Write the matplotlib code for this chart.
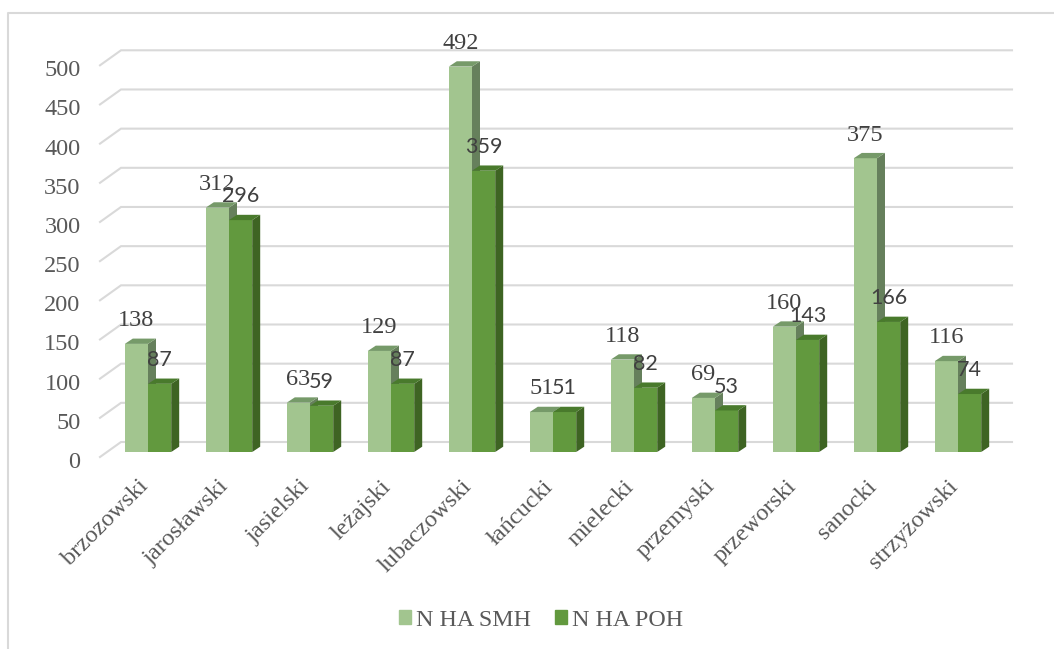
import matplotlib
matplotlib.use('Agg')
import matplotlib.pyplot as plt
from matplotlib.lines import Line2D
from matplotlib.patches import Polygon
from matplotlib.transforms import ScaledTranslation

# Data
districts = ['brzozowski', 'jarosławski', 'jasielski', 'leżajski', 'lubaczowski', 'łańcucki',
             'mielecki', 'przemyski', 'przeworski', 'sanocki', 'strzyżowski']
n_ha_smh = [138, 312, 63, 129, 492, 51, 118, 69, 160, 375, 116]
n_ha_poh = [87, 296, 59, 87, 359, 51, 82, 53, 143, 166, 74]
y_ticks = [0, 50, 100, 150, 200, 250, 300, 350, 400, 450, 500]

W, H = 1054, 649
SERIF = 'Liberation Serif'
SANS = 'Lato'

# pixel layout of the fake 3D front plane
left, right = 100, 991
y_zero, y_500 = 457, 65.3
px_x = 11 / (right - left)      # categories per pixel
px_y = 500 / (y_zero - y_500)   # value units per pixel

fig = plt.figure(figsize=(W / 100, H / 100), dpi=100)
ax = fig.add_axes([left / W, 1 - y_zero / H, (right - left) / W, (y_zero - y_500) / H])
ax.set_xlim(-0.5, 10.5)
ax.set_ylim(0, 500)
ax.patch.set_visible(False)
for s in ax.spines.values():
    s.set_visible(False)

# chart border, cropped at the right and bottom
fig.add_artist(Line2D([7.5 / W, 7.5 / W, 1053 / W], [0, 1 - 13 / H, 1 - 13 / H], color='#D9D9D9', lw=1.5))

# gridlines on the back wall plus the short slanted bit at the left
grid_dx = 21 * px_x
grid_dy = 15 * px_y
for v in y_ticks:
    ax.plot([-0.5, -0.5 + grid_dx, 10.5 + grid_dx], [v, v + grid_dy, v + grid_dy],
            color='#D9D9D9', lw=1.5, clip_on=False, zorder=1, solid_joinstyle='miter')

bar_w = 23.2 * px_x
lift = 5 * px_y
shift = 7.5 * px_x
dx = 8 * px_x
dy = 5.3 * px_y


def draw_series(values, start, face, side, top, z):
    xs = [i + start + shift for i in range(len(values))]
    ax.bar(xs, values, bar_w, bottom=lift, align='edge', color=face, clip_on=False, zorder=z)
    for x, v in zip(xs, values):
        y = v + lift
        ax.add_patch(Polygon([(x + bar_w, lift), (x + bar_w + dx, lift + dy),
                              (x + bar_w + dx, y + dy), (x + bar_w, y)],
                             facecolor=side, edgecolor='none', clip_on=False, zorder=z))
        ax.add_patch(Polygon([(x, y), (x + dx, y + dy), (x + bar_w + dx, y + dy), (x + bar_w, y)],
                             facecolor=top, edgecolor='none', clip_on=False, zorder=z))


draw_series(n_ha_smh, -bar_w, '#A2C58F', '#66805C', '#769A69', 3)
draw_series(n_ha_poh, 0, '#62993E', '#3E6423', '#497A2C', 4)

# value labels
for i, (a, b) in enumerate(zip(n_ha_smh, n_ha_poh)):
    ax.annotate(str(a), (i - bar_w / 2 + shift, a + lift), xytext=(0, 12.7), textcoords='offset points',
                ha='center', va='baseline', family=SERIF, fontsize=17.5, color='#404040', zorder=6,
                annotation_clip=False)
    ax.annotate(str(b), (i + bar_w / 2 + shift, b + lift), xytext=(0, 12.7), textcoords='offset points',
                ha='center', va='baseline', family=SANS, fontsize=15.5, color='#404040', zorder=6,
                annotation_clip=False)

ax.set_yticks(y_ticks)
ax.set_yticklabels(y_ticks, family=SERIF, fontsize=17.5, color='#595959')
ax.set_xticks(range(len(districts)))
ax.set_xticklabels(districts, family=SERIF, fontsize=17.5, color='#595959', rotation=45,
                   ha='right', va='top', rotation_mode='anchor')
ax.tick_params(axis='y', length=0, pad=14)
ax.tick_params(axis='x', length=0, pad=13)

# nudge the tick labels to where the reference has them
nudge_x = ScaledTranslation(-3 / 100, -1 / 100, fig.dpi_scale_trans)
for lab in ax.get_xticklabels():
    lab.set_transform(lab.get_transform() + nudge_x)
nudge_y = ScaledTranslation(0, -3 / 100, fig.dpi_scale_trans)
for lab in ax.get_yticklabels():
    lab.set_transform(lab.get_transform() + nudge_y)

handles = [plt.Rectangle((0, 0), 1, 1, color='#A2C58F'), plt.Rectangle((0, 0), 1, 1, color='#62993E')]
leg = fig.legend(handles, ['N HA SMH', 'N HA POH'], loc='center', bbox_to_anchor=(541 / W, 1 - 620 / H),
                 ncols=2, frameon=False, handlelength=0.5, handleheight=0.5, handletextpad=0.22,
                 columnspacing=1.0, prop={'family': SERIF, 'size': 17.3}, labelcolor='#595959')

fig.savefig('out.png', dpi=100)
